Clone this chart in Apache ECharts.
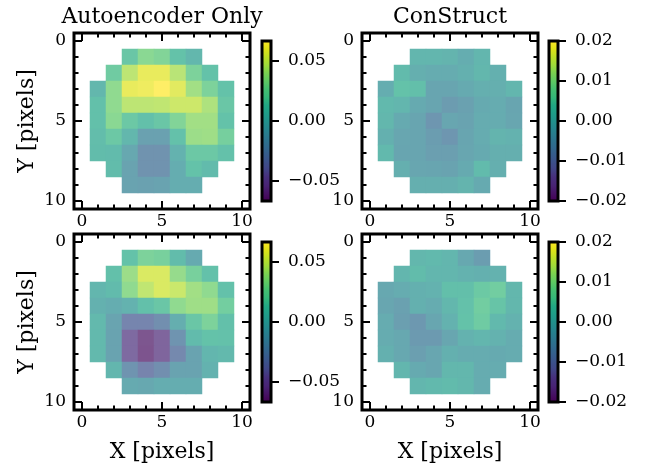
<!DOCTYPE html>
<html><head><meta charset="utf-8">
<script src="https://cdn.jsdelivr.net/npm/echarts@6/dist/echarts.min.js"></script>
<style>html,body{margin:0;padding:0;background:#fff}#c{width:650px;height:465px}</style>
</head><body><div id="c"></div>
<script>
const _ = null;
const pixelIdx = [0,1,2,3,4,5,6,7,8,9,10];
const majorTicks = [0,5,10];
const minorTicks = [1,2,3,4,6,7,8,9];
const columnTitles = ['Autoencoder Only', 'ConStruct'];
const xLabel = 'X [pixels]';
const yLabel = 'Y [pixels]';

// Residual images (row = Y pixel, column = X pixel), null = masked
const aeTop = [
  [_,_,_,_,_,_,_,_,_,_,_],
  [_,_,_,0.016,0.032,0.029,0.013,0.004,_,_,_],
  [_,_,0.019,0.047,0.060,0.060,0.046,0.027,0.013,_,_],
  [_,0.004,0.034,0.060,0.062,0.067,0.058,0.040,0.027,0.013,_],
  [_,0.011,0.034,0.047,0.047,0.048,0.052,0.052,0.043,0.016,_],
  [_,0.011,0.032,0.017,0.011,0.016,0.029,0.040,0.040,0.013,_],
  [_,0.009,0.017,0.004,-0.013,-0.013,0.012,0.038,0.039,0.023,_],
  [_,0.008,0.007,-0.008,-0.024,-0.024,0.000,0.017,0.017,0.012,_],
  [_,_,0.008,-0.012,-0.024,-0.024,-0.004,0.013,0.007,_,_],
  [_,_,_,-0.012,-0.013,-0.012,-0.004,-0.004,_,_,_],
  [_,_,_,_,_,_,_,_,_,_,_]
];
const csTop = [
  [_,_,_,_,_,_,_,_,_,_,_],
  [_,_,_,0.0008,0.0008,0.0004,-0.0012,0.0008,_,_,_],
  [_,_,0.0020,-0.0008,-0.0016,-0.0016,-0.0004,0.0012,-0.0004,_,_],
  [_,-0.0012,0.0040,0.0032,-0.0032,-0.0032,-0.0020,-0.0008,-0.0008,0.0008,_],
  [_,0.0016,0.0008,-0.0020,-0.0032,-0.0052,-0.0040,-0.0020,-0.0016,-0.0032,_],
  [_,0.0012,-0.0020,-0.0032,-0.0064,-0.0028,-0.0036,-0.0016,-0.0016,-0.0028,_],
  [_,-0.0004,-0.0028,-0.0032,-0.0048,-0.0064,-0.0032,-0.0016,0.0004,0.0000,_],
  [_,0.0016,-0.0032,-0.0032,-0.0044,-0.0044,-0.0028,-0.0020,-0.0008,-0.0008,_],
  [_,_,-0.0008,-0.0028,-0.0032,-0.0036,-0.0020,0.0020,-0.0008,_,_],
  [_,_,_,-0.0008,-0.0008,-0.0008,0.0004,-0.0020,_,_,_],
  [_,_,_,_,_,_,_,_,_,_,_]
];
const aeBottom = [
  [_,_,_,_,_,_,_,_,_,_,_],
  [_,_,_,0.013,0.027,0.024,0.008,-0.007,_,_,_],
  [_,_,0.011,0.038,0.056,0.056,0.036,0.024,0.012,_,_],
  [_,0.003,0.007,0.034,0.048,0.056,0.051,0.040,0.034,0.012,_],
  [_,-0.001,-0.004,0.000,0.011,0.016,0.034,0.039,0.039,0.021,_],
  [_,0.005,-0.011,-0.034,-0.034,-0.027,-0.003,0.016,0.027,0.011,_],
  [_,0.005,-0.012,-0.050,-0.062,-0.054,-0.023,0.007,0.013,0.012,_],
  [_,0.005,-0.012,-0.050,-0.063,-0.054,-0.031,-0.012,0.003,0.005,_],
  [_,_,0.003,-0.023,-0.035,-0.027,-0.012,-0.012,0.000,_,_],
  [_,_,_,-0.007,-0.008,-0.004,-0.004,-0.004,_,_,_],
  [_,_,_,_,_,_,_,_,_,_,_]
];
const csBottom = [
  [_,_,_,_,_,_,_,_,_,_,_],
  [_,_,_,0.0012,0.0016,0.0008,-0.0024,-0.0048,_,_,_],
  [_,_,0.0008,0.0024,0.0008,0.0008,0.0000,-0.0004,0.0000,_,_],
  [_,-0.0024,-0.0016,-0.0004,0.0000,0.0032,0.0032,0.0052,0.0060,0.0012,_],
  [_,-0.0028,-0.0040,-0.0004,-0.0016,0.0012,0.0036,0.0060,0.0044,0.0012,_],
  [_,-0.0016,-0.0044,-0.0060,-0.0028,0.0000,0.0040,0.0056,0.0016,0.0000,_],
  [_,-0.0016,-0.0024,-0.0056,-0.0056,-0.0028,0.0000,0.0008,0.0000,-0.0016,_],
  [_,-0.0004,-0.0024,-0.0044,-0.0028,-0.0004,-0.0016,-0.0016,-0.0020,-0.0016,_],
  [_,_,0.0008,-0.0020,-0.0028,0.0012,0.0012,-0.0016,-0.0016,_,_],
  [_,_,_,0.0008,0.0016,0.0020,0.0012,-0.0016,_,_,_],
  [_,_,_,_,_,_,_,_,_,_,_]
];
const aeRange = [-0.0667, 0.0667];
const csRange = [-0.02, 0.02];
const aeCbTicks = [-0.05, 0.00, 0.05];
const csCbTicks = [-0.02, -0.01, 0.00, 0.01, 0.02];

const viridis = ['#440154','#471365','#482475','#472f7d','#414487','#3b528b','#355f8d','#2f6c8e','#2a788e','#25858e','#21918c','#1f9e89','#22a884','#35b779','#44bf70','#5ec962','#7ad151','#9fda3a','#bddf26','#dfe318','#fde725'];
// image drawn at alpha 0.7 over white
const ALPHA = 0.7;
const blend = hex => {
  const n = parseInt(hex.slice(1), 16);
  const ch = [(n >> 16) & 255, (n >> 8) & 255, n & 255].map(c => Math.round(c * ALPHA + 255 * (1 - ALPHA)));
  return 'rgb(' + ch.join(',') + ')';
};
const viridisFaded = viridis.map(blend);

const FONT = 'DejaVu Serif';
const PS = 176; // panel size
const panels = [
  {rows: aeTop,    range: aeRange, ticks: aeCbTicks, left: 74,  top: 33,  cbLeft: 262, col: 0, row: 0},
  {rows: csTop,    range: csRange, ticks: csCbTicks, left: 362, top: 33,  cbLeft: 549, col: 1, row: 0},
  {rows: aeBottom, range: aeRange, ticks: aeCbTicks, left: 74,  top: 234, cbLeft: 262, col: 0, row: 1},
  {rows: csBottom, range: csRange, ticks: csCbTicks, left: 362, top: 234, cbLeft: 549, col: 1, row: 1}
];

const grid = [], xAxis = [], yAxis = [], series = [], visualMap = [];
const tickStyle = {color: '#000', width: 2};
const labStyle = {fontFamily: FONT, fontSize: 17, color: '#000'};
const nameStyle = {fontFamily: FONT, fontSize: 22, color: '#000'};
const fmt = v => (v < 0 ? '\u2212' : '') + Math.abs(v).toFixed(2);

panels.forEach((p, i) => {
  const g = grid.length;
  grid.push({left: p.left, top: p.top, width: PS, height: PS, show: true,
             borderColor: '#000', borderWidth: 3, backgroundColor: 'transparent', z: 3});
  const xi = xAxis.length, yi = yAxis.length;
  xAxis.push({gridIndex: g, type: 'category', data: pixelIdx, show: false, axisLine: {onZero: false}});
  yAxis.push({gridIndex: g, type: 'category', data: pixelIdx, inverse: true, show: false, axisLine: {onZero: false}});
  ['bottom','top'].forEach(pos => {
    [[majorTicks, 8], [minorTicks, 4.5]].forEach(([vals, len]) => {
      const isLab = pos === 'bottom' && vals === majorTicks;
      const ax = {gridIndex: g, type: 'value', position: pos, min: -0.5, max: 10.5,
        axisLine: {show: false, onZero: false}, splitLine: {show: false},
        axisTick: {show: true, inside: true, length: len, lineStyle: tickStyle, customValues: vals},
        axisLabel: {show: isLab, customValues: vals, margin: 4, ...labStyle}};
      if (isLab && p.row === 1) {
        Object.assign(ax, {name: xLabel, nameLocation: 'middle', nameGap: 31, nameTextStyle: nameStyle});
      }
      xAxis.push(ax);
    });
  });
  ['left','right'].forEach(pos => {
    [[majorTicks, 8], [minorTicks, 4.5]].forEach(([vals, len]) => {
      const isLab = pos === 'left' && vals === majorTicks;
      const ax = {gridIndex: g, type: 'value', position: pos, min: -0.5, max: 10.5, inverse: true,
        axisLine: {show: false, onZero: false}, splitLine: {show: false},
        axisTick: {show: true, inside: true, length: len, lineStyle: tickStyle, customValues: vals},
        axisLabel: {show: isLab, customValues: vals, margin: 8, ...labStyle}};
      if (isLab && p.col === 0) {
        Object.assign(ax, {name: yLabel, nameLocation: 'middle', nameGap: 36, nameRotate: 90, nameTextStyle: nameStyle});
      }
      yAxis.push(ax);
    });
  });
  const data = [];
  p.rows.forEach((r, y) => r.forEach((v, x) => { if (v !== null) data.push([x, y, v]); }));
  const si = series.length;
  series.push({type: 'heatmap', xAxisIndex: xi, yAxisIndex: yi, data,
    emphasis: {disabled: true}, silent: true});
  visualMap.push({type: 'continuous', seriesIndex: si, dimension: 2,
    min: p.range[0], max: p.range[1], calculable: false, hoverLink: false,
    inRange: {color: viridisFaded}, controller: {inRange: {color: viridis}},
    left: p.cbLeft, top: p.top + 8,
    itemWidth: 9, itemHeight: 160, padding: 0, text: null, z: 4});
  // colorbar frame + ticks
  const cg = grid.length;
  grid.push({left: p.cbLeft, top: p.top + 8, width: 9, height: 160, show: true,
             borderColor: '#000', borderWidth: 3, backgroundColor: 'transparent', z: 6});
  xAxis.push({gridIndex: cg, type: 'value', show: false, min: 0, max: 1, axisLine: {onZero: false}});
  yAxis.push({gridIndex: cg, type: 'value', position: 'right', min: p.range[0], max: p.range[1],
    axisLine: {show: false, onZero: false}, splitLine: {show: false}, z: 6,
    axisTick: {show: true, inside: false, length: 8, lineStyle: tickStyle, customValues: p.ticks},
    axisLabel: {show: true, customValues: p.ticks, margin: 17, formatter: fmt, ...labStyle}});
});

const graphic = columnTitles.map((t, i) => ({
  type: 'text', x: panels[i].left + PS / 2, y: 17,
  style: {text: t, textAlign: 'center', textVerticalAlign: 'middle',
          font: '22px "' + FONT + '"', fill: '#000'}
}));

const chart = echarts.init(document.getElementById('c'), null, {renderer: 'canvas'});
chart.setOption({animation: false, grid, xAxis, yAxis, series, visualMap, graphic});
</script></body></html>
